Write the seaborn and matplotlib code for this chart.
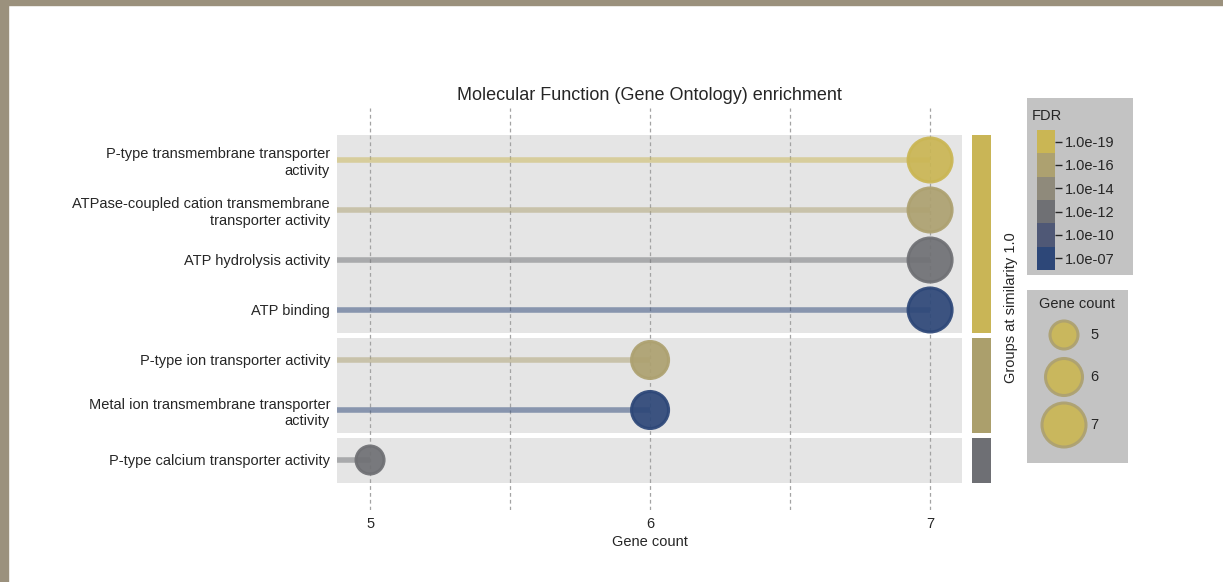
import numpy as np
import pandas as pd
import matplotlib
matplotlib.use("Agg")
import matplotlib.pyplot as plt
from matplotlib.colors import ListedColormap, BoundaryNorm, to_rgba
from matplotlib.patches import Rectangle
from matplotlib.ticker import NullLocator, FixedLocator
import seaborn as sns

# ---------------- data ----------------
terms = [
    "P-type transmembrane transporter\nactivity",
    "ATPase-coupled cation transmembrane\ntransporter activity",
    "ATP hydrolysis activity",
    "ATP binding",
    "P-type ion transporter activity",
    "Metal ion transmembrane transporter\nactivity",
    "P-type calcium transporter activity",
]
gene_counts = [7, 7, 7, 7, 6, 6, 5]
fdr_values = [1e-19, 1e-16, 1e-12, 1e-07, 1e-16, 1e-07, 1e-12]
groups = [0, 0, 0, 0, 1, 1, 2]
group_colors = ["#c9b556", "#ab9f6c", "#6e6f74"]
fdr_ticks = [1e-19, 1e-16, 1e-14, 1e-12, 1e-10, 1e-07]
fdr_tick_labels = ["1.0e-19", "1.0e-16", "1.0e-14", "1.0e-12", "1.0e-10", "1.0e-07"]
fdr_colors = ["#cab654", "#ada170", "#8f8a7b", "#6f7074", "#4f5876", "#2d4778"]
size_levels = [5, 6, 7]
x_ticks = [5, 6, 7]

# ---------------- style ----------------
sns.set_theme(style="white")
plt.rcParams["font.family"] = ["Liberation Sans", "DejaVu Sans"]
TXT = "#262626"
FS = 10.5

W, H = 1223, 582
fig = plt.figure(figsize=(W / 100, H / 100), dpi=100)
fig.patch.set_facecolor("white")

def px_axes(x0, y0, x1, y1, **kw):
    return fig.add_axes([x0 / W, 1 - y1 / H, (x1 - x0) / W, (y1 - y0) / H], **kw)

# frame border (screenshot edge)
fig.patches.append(Rectangle((0, 0), 8 / W, 1, transform=fig.transFigure,
                             color="#9b917d", zorder=10))
fig.patches.append(Rectangle((0, 1 - 5 / H), 1, 5 / H, transform=fig.transFigure,
                             color="#9b917d", zorder=10))

def fdr_color(v):
    idx = int(np.argmin([abs(np.log10(v) - np.log10(t)) for t in fdr_ticks]))
    return fdr_colors[idx]

df = pd.DataFrame({
    "term": terms,
    "count": gene_counts,
    "fdr": fdr_values,
    "group": groups,
    "row": np.arange(len(terms)),
})
df["color"] = [fdr_color(v) for v in df["fdr"]]

XMIN, XMAX = 4.882, 7.114
YTOP, YBOT = -1.04, 7.0

ax = px_axes(337, 108, 962, 510)
ax.set_xlim(XMIN, XMAX)
ax.set_ylim(YBOT, YTOP)
for s in ax.spines.values():
    s.set_visible(False)

# group bands
gap = 0.05
group_spans = []
for g in sorted(set(groups)):
    rows = df.loc[df["group"] == g, "row"]
    top, bot = rows.min() - 0.5, rows.max() + 0.5
    t = top + (gap if top > -0.5 else 0)
    b = bot - gap
    group_spans.append((g, t, b))
    ax.add_patch(Rectangle((XMIN, t), XMAX - XMIN, b - t,
                           facecolor="#e5e5e5", edgecolor="none", zorder=0))

# grid
for xv in [5, 5.5, 6, 6.5, 7]:
    ax.axvline(xv, color="#a3a3a3", lw=0.9, ls=(0, (3, 2.5)), zorder=1)

# lollipop stems
for _, r in df.iterrows():
    ax.hlines(r["row"], XMIN, r["count"], color=to_rgba(r["color"], 0.5), lw=4.0,
              zorder=2, capstyle="butt")

def size_of(c):
    d = {5: 28, 6: 37, 7: 44}[c]
    return (d * 0.72) ** 2

pal = dict(zip(df["term"], df["color"]))
sns.scatterplot(data=df, x="count", y="row", hue="term", palette=pal,
                size="count", sizes={c: size_of(c) for c in size_levels},
                legend=False, ax=ax, alpha=0.92, zorder=3,
                edgecolor=[to_rgba(c, 0.55) for c in df["color"]], linewidth=2.2)

ax.set_yticks(df["row"])
ax.set_yticklabels(df["term"], fontsize=FS, color=TXT, multialignment="right")
ax.set_xticks(x_ticks)
ax.set_xticklabels([str(x) for x in x_ticks], fontsize=FS, color=TXT)
ax.tick_params(axis="both", length=0)
ax.tick_params(axis="y", pad=5)
ax.tick_params(axis="x", pad=5)
ax.set_xlabel("Gene count", fontsize=FS, color=TXT, labelpad=3)
ax.set_ylabel("")
ax.set_title("Molecular Function (Gene Ontology) enrichment", fontsize=13,
             color=TXT, pad=6)
ax.grid(False)

# group side bars
gax = px_axes(972, 108, 991, 510)
gax.set_xlim(0, 1)
gax.set_ylim(YBOT, YTOP)
gax.axis("off")
for g, t, b in group_spans:
    gax.add_patch(Rectangle((0, t), 1, b - t, facecolor=group_colors[g],
                            edgecolor="none"))
fig.text(1011 / W, 1 - 308 / H, "Groups at similarity 1.0", rotation=90,
         ha="center", va="center", fontsize=FS, color=TXT)

# FDR legend
lax = px_axes(1027, 98, 1133, 275)
lax.set_facecolor("#c3c3c3")
lax.set_xlim(0, 106)
lax.set_ylim(177, 0)
lax.set_xticks([]); lax.set_yticks([])
for s in lax.spines.values():
    s.set_visible(False)
lax.text(5, 18, "FDR", fontsize=FS, color=TXT, ha="left", va="center")
cax = px_axes(1037, 130, 1055, 270)
cmap = ListedColormap(fdr_colors)
norm = BoundaryNorm(np.arange(len(fdr_colors) + 1), cmap.N)
cb = fig.colorbar(matplotlib.cm.ScalarMappable(norm=norm, cmap=cmap), cax=cax)
cax.invert_yaxis()
cax.yaxis.set_major_locator(FixedLocator(np.arange(len(fdr_colors)) + 0.5))
cax.yaxis.set_minor_locator(NullLocator())
cax.set_yticklabels(fdr_tick_labels)
cb.outline.set_visible(False)
cax.tick_params(which="major", length=5, width=1, color=TXT, labelsize=FS,
                labelcolor=TXT, pad=2)

# Gene count legend
sax = px_axes(1027, 290, 1128, 463)
sax.set_facecolor("#c3c3c3")
sax.set_xlim(0, 101)
sax.set_ylim(173, 0)
sax.set_xticks([]); sax.set_yticks([])
for s in sax.spines.values():
    s.set_visible(False)
sax.text(50, 14, "Gene count", fontsize=FS, color=TXT, ha="center", va="center")
leg_y = [45, 87, 135]
sax.scatter([37] * len(size_levels), leg_y, s=[size_of(c) for c in size_levels],
            color=fdr_colors[0], alpha=0.92,
            edgecolors=[to_rgba(fdr_colors[1], 0.7)] * len(size_levels), linewidths=2.2)
for yv, c in zip(leg_y, size_levels):
    sax.text(63, yv, str(c), fontsize=FS, color=TXT, ha="left", va="center")

fig.savefig("out.png", dpi=100)
